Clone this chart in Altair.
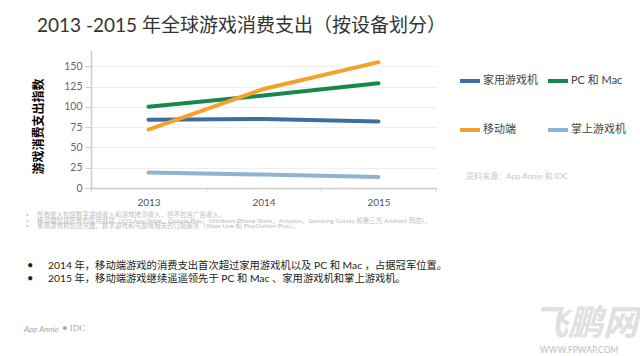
import altair as alt
import pandas as pd

FONT = "Lato, 'Noto Sans CJK SC', sans-serif"

years = ["2013", "2014", "2015"]
series = ["家用游戏机", "PC 和 Mac", "移动端", "掌上游戏机"]
console = [84, 85, 82]
pc_mac = [100, 114, 129]
mobile = [72, 122, 155]
handheld = [19, 16.5, 13.5]
colors = ["#3c6e9f", "#17884b", "#f4a22c", "#8db4d2"]
y_ticks = [0, 25, 50, 75, 100, 125, 150]

title_text = "2013 -2015 年全球游戏消费支出（按设备划分）"
y_title = "游戏消费支出指数"
source_text = "资料来源：App Annie 和 IDC"
footnotes = [
    "所有收入包括数字游戏收入和游戏拷贝收入，但不包含广告收入。",
    "移动端包括所有的应用商店（iOS App Store、Google Play、Windows Phone Store、Amazon、Samsung Galaxy 和第三方 Android 商店）。",
    "家用游戏机包括光盘、数字游戏和与游戏相关的订阅服务（Xbox Live 和 PlayStation Plus）。",
]
bullets = [
    "2014 年，移动端游戏的消费支出首次超过家用游戏机以及 PC 和 Mac ，占据冠军位置。",
    "2015 年，移动端游戏继续遥遥领先于 PC 和 Mac 、家用游戏机和掌上游戏机。",
]

rows = []
for name, vals in zip(series, [console, pc_mac, mobile, handheld]):
    for yr, v in zip(years, vals):
        rows.append({"year": yr, "series": name, "value": v})
df = pd.DataFrame(rows)

lines = alt.Chart(df).mark_line(strokeWidth=4, strokeCap="round").encode(
    x=alt.X("year:O", bandPosition=0.5,
            scale=alt.Scale(type="band", paddingInner=0, paddingOuter=0),
            axis=alt.Axis(title=None, labelAngle=0, labelFontSize=10, labelColor="#555",
                          labelFont=FONT, labelPadding=6, tickBand="extent", tickSize=3,
                          tickColor="#ccc", domainColor="#ccc", domainWidth=1.5, grid=False)),
    y=alt.Y("value:Q", scale=alt.Scale(domain=[0, 170], nice=False),
            axis=alt.Axis(values=y_ticks, title=y_title, titleFont=FONT, titleFontSize=12,
                          titleFontWeight="bold", titleColor="#000", titleX=-53, titleY=76,
                          titleAlign="center", titleBaseline="middle",
                          labelFontSize=10.5, labelColor="#666", labelFont=FONT,
                          tickSize=6, tickColor="#ccc", domainColor="#ccc", domainWidth=1.5,
                          gridColor="#efefef", labelPadding=3)),
    color=alt.Color("series:N", scale=alt.Scale(domain=series, range=colors),
                    legend=alt.Legend(title=None, orient="none", legendX=367, legendY=19,
                                      direction="horizontal", columns=2,
                                      symbolType="stroke", symbolStrokeWidth=4,
                                      symbolSize=400, labelFontSize=11, labelFont=FONT,
                                      labelColor="#444", rowPadding=29, columnPadding=2,
                                      labelOffset=1)),
    detail="series:N",
)

def text_layer(txt, x, y, font=FONT, **kw):
    return alt.Chart(pd.DataFrame({"t": [txt]})).mark_text(
        font=font, align="left", baseline="middle", **kw
    ).encode(text="t:N", x=alt.value(x), y=alt.value(y))

OX, OY = 91, 50
layers = [lines]
layers.append(text_layer(title_text, 37 - OX, 26 - OY, fontSize=19, color="#333"))
layers.append(text_layer(source_text, 466 - OX, 177 - OY, fontSize=8, color="#c8c8c8"))
for i, fn in enumerate(footnotes):
    yy = 215 + i * 5.5 - OY
    layers.append(text_layer("•", 26 - OX, yy, fontSize=5, color="#c4c4c4"))
    layers.append(text_layer(fn, 37 - OX, yy, fontSize=6.5, color="#bdbdbd"))
for i, b in enumerate(bullets):
    yy = 265.5 + i * 13 - OY
    layers.append(text_layer("•", 27 - OX, yy, fontSize=11, color="#222"))
    layers.append(text_layer(b, 48 - OX, yy, fontSize=10.3, color="#222"))
layers.append(text_layer("App Annie", 24 - OX, 330 - OY, fontSize=8, color="#aaa",
                         fontStyle="italic"))
layers.append(text_layer("● IDC", 62 - OX, 328 - OY, font="Liberation Serif", fontSize=9,
                         color="#aaa"))
layers.append(text_layer("飞鹏网", 533 - OX, 324 - OY, fontSize=35, color="#e0e0e0",
                         fontWeight="bold", fontStyle="italic"))
layers.append(text_layer("WWW.FPWAP.COM", 540 - OX, 350 - OY, fontSize=8.5, color="#c0c0c0"))

chart = alt.layer(*layers).properties(
    width=345, height=138,
    autosize=alt.AutoSizeParams(type="none"),
    padding={"left": OX, "top": OY, "right": 640 - OX - 345, "bottom": 356 - OY - 138},
    background="white",
).configure_view(stroke=None)

chart.save("out.html", embed_options={"renderer": "svg", "actions": False})
